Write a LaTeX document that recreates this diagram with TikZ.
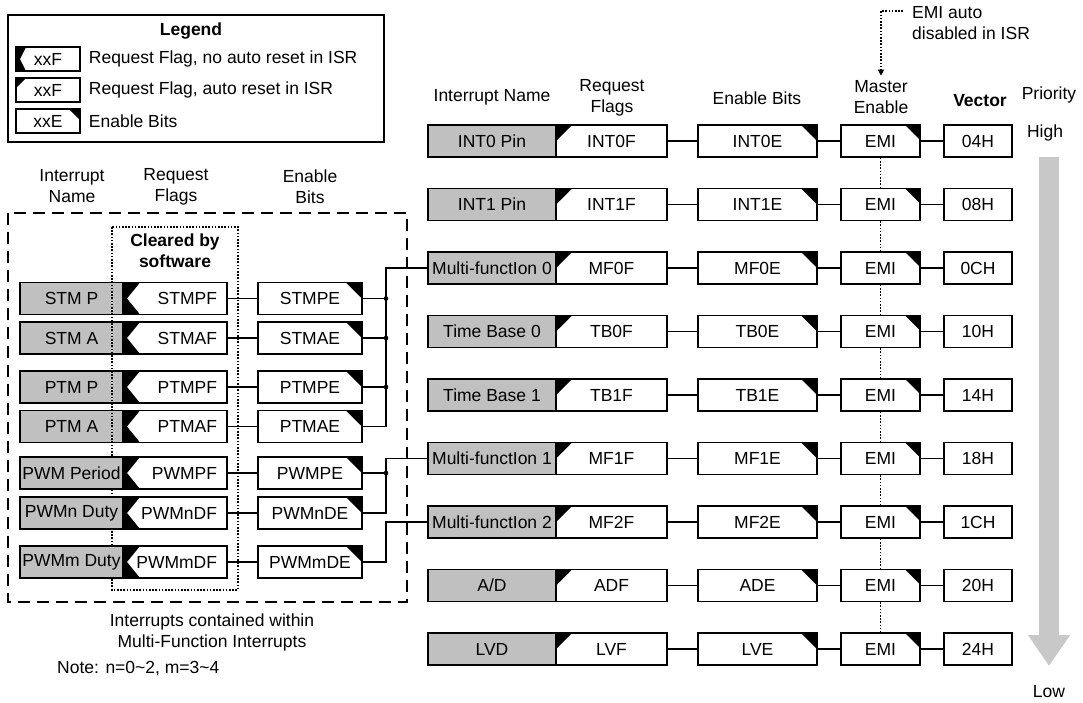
\documentclass[tikz,border=0pt]{standalone}
\usepackage{fontspec}
\setmainfont{Liberation Sans}
\usepackage{xcolor}
\usetikzlibrary{arrows.meta,positioning}
\definecolor{boxgray}{RGB}{192,192,192}
\definecolor{priogray}{RGB}{200,200,200}

\begin{document}
\begin{tikzpicture}[
  x=1pt, y=-1pt,
  every node/.style={font=\fontsize{17.5}{21}\selectfont, inner sep=0pt},
  boldlbl/.style={font=\fontsize{17.5}{21}\selectfont\bfseries},
  regbox/.style={draw, line width=1.4pt, minimum height=32pt},
  namebox/.style={regbox, fill=boxgray},
  reqflag/.style={regbox, fill=white,
    path picture={\fill[black] (path picture bounding box.north west) -- ++(#1,0) -- ++(-#1,#1) -- cycle;}},
  reqflag/.default=16,
  swflag/.style={regbox, fill=white,
    path picture={\fill[black] (path picture bounding box.north west)
      -- ([xshift=#1pt]path picture bounding box.north west)
      -- ([xshift=4pt]path picture bounding box.west)
      -- ([xshift=#1pt]path picture bounding box.south west)
      -- (path picture bounding box.south west) -- cycle;}},
  swflag/.default=17,
  enbit/.style={regbox, fill=white,
    path picture={\fill[black] (path picture bounding box.north east) -- ++(-#1,0) -- ++(#1,#1) -- cycle;}},
  enbit/.default=16,
  vecbox/.style={regbox, fill=white, minimum width=68pt},
  rname/.style={namebox, minimum width=128pt},
  rflag/.style={reqflag, minimum width=111pt},
  ren/.style={enbit, minimum width=119pt},
  remi/.style={enbit=15, minimum width=79pt},
  lname/.style={namebox, minimum width=103pt},
  lflag/.style={swflag, minimum width=104pt, text width=84pt, inner xsep=10pt, align=right},
  len/.style={enbit, minimum width=104pt},
  wire/.style={line width=1.2pt},
  emidot/.style={line width=1.1pt, dash pattern=on 1.6pt off 1.6pt},
  mfframe/.style={line width=1.1pt, dash pattern=on 12pt off 7pt},
  swframe/.style={line width=1.2pt, dash pattern=on 1.6pt off 1.6pt},
  prio/.style={draw=priogray, line width=20pt, -{Triangle[length=31pt,width=40pt]}}
]
\useasboundingbox (0,0) rectangle (1083,702);

% legend
\draw[line width=1.4pt] (8,15) rectangle (384,142);
\node[boldlbl] (legtitle) at (191,31) {Legend};
\node[swflag=10, minimum width=64pt, minimum height=24pt] (legsw) at (48,59) {xxF};
\node[right=8pt of legsw] (legswtxt) {Request Flag, no auto reset in ISR};
\node[reqflag=10, minimum width=64pt, minimum height=24pt] (legrf) at (48,90) {xxF};
\node[right=8pt of legrf] (legrftxt) {Request Flag, auto reset in ISR};
\node[enbit=11, minimum width=64pt, minimum height=24pt] (legen) at (48,121) {xxE};
\node[right=8pt of legen] (legentxt) {Enable Bits};

% left headings
\node[align=center] (lhname) at (72,186.5) {Interrupt\\Name};
\node[align=center] (lhflag) at (176,186.5) {Request\\Flags};
\node[align=center] (lhen) at (310,186.5) {Enable\\Bits};

% multi-function sources
\draw[mfframe] (8,213) rectangle (407,602);
\node[boldlbl, align=center] (clr) at (175,251) {Cleared by\\software};

\node[lname] (stmp) at (71.5,298.5) {STM P};
\node[lflag] (stmpf) at (175,298.5) {STMPF};
\node[len]   (stmpe) at (310,298.5) {STMPE};
\node[lname] (stma) at (71.5,338) {STM A};
\node[lflag] (stmaf) at (175,338) {STMAF};
\node[len]   (stmae) at (310,338) {STMAE};
\node[lname] (ptmp) at (71.5,387) {PTM P};
\node[lflag] (ptmpf) at (175,387) {PTMPF};
\node[len]   (ptmpe) at (310,387) {PTMPE};
\node[lname] (ptma) at (71.5,426.5) {PTM A};
\node[lflag] (ptmaf) at (175,426.5) {PTMAF};
\node[len]   (ptmae) at (310,426.5) {PTMAE};

\draw[swframe] (112,227) rectangle (238,590);

\node[lname] (pwmp) at (71.5,473) {PWM Period};
\node[lflag] (pwmpf) at (175,473) {PWMPF};
\node[len]   (pwmpe) at (310,473) {PWMPE};
\node[lname] (pwmn) at (71.5,513) {PWMn Duty};
\node[lflag] (pwmnf) at (175,513) {PWMnDF};
\node[len]   (pwmne) at (310,513) {PWMnDE};
\node[lname] (pwmm) at (71.5,562) {PWMm Duty};
\node[lflag] (pwmmf) at (175,562) {PWMmDF};
\node[len]   (pwmme) at (310,562) {PWMmDE};

\draw[wire] (stmpf) -- (stmpe) (stmaf) -- (stmae) (ptmpf) -- (ptmpe) (ptmaf) -- (ptmae);
\draw[wire] (pwmpf) -- (pwmpe) (pwmnf) -- (pwmne) (pwmmf) -- (pwmme);

\node[align=center] (mfnote) at (212,632) {Interrupts contained within\\Multi-Function Interrupts};
\node[anchor=west] (nmnote) at (57,668) {Note: n=0\textasciitilde 2, m=3\textasciitilde 4};

% right headings
\node (rhname) at (492,97) {Interrupt Name};
\node[align=center] (rhflag) at (612,97.5) {Request\\Flags};
\node (rhen) at (757,98) {Enable Bits};
\node[align=center] (mhead) at (881,97.5) {Master\\Enable};
\node[boldlbl] (vhead) at (980,101) {Vector};
\node (phead) at (1049,95) {Priority};
\node[align=left, anchor=west] (emitxt) at (912,23) {EMI auto\\disabled in ISR};
\coordinate (emibend) at (881,11);
\draw[emidot, -{Triangle[length=6pt,width=6pt]}, shorten >=5pt]
  ([xshift=-9pt]emitxt.west |- emibend) -- (emibend) -- (mhead.north);

% interrupt sources
\node[rname] (int0) at (492,141) {INT0 Pin};
\node[rflag] (int0f) at (611.5,141) {INT0F};
\node[ren]   (int0e) at (757.5,141) {INT0E};
\node[remi]  (int0m) at (880.5,141) {EMI};
\node[vecbox] (int0v) at (978,141) {04H};

\node[rname] (int1) at (492,204.5) {INT1 Pin};
\node[rflag] (int1f) at (611.5,204.5) {INT1F};
\node[ren]   (int1e) at (757.5,204.5) {INT1E};
\node[remi]  (int1m) at (880.5,204.5) {EMI};
\node[vecbox] (int1v) at (978,204.5) {08H};

\node[rname] (mf0) at (492,268) {Multi-functIon 0};
\node[rflag] (mf0f) at (611.5,268) {MF0F};
\node[ren]   (mf0e) at (757.5,268) {MF0E};
\node[remi]  (mf0m) at (880.5,268) {EMI};
\node[vecbox] (mf0v) at (978,268) {0CH};

\node[rname] (tb0) at (492,331.5) {Time Base 0};
\node[rflag] (tb0f) at (611.5,331.5) {TB0F};
\node[ren]   (tb0e) at (757.5,331.5) {TB0E};
\node[remi]  (tb0m) at (880.5,331.5) {EMI};
\node[vecbox] (tb0v) at (978,331.5) {10H};

\node[rname] (tb1) at (492,395) {Time Base 1};
\node[rflag] (tb1f) at (611.5,395) {TB1F};
\node[ren]   (tb1e) at (757.5,395) {TB1E};
\node[remi]  (tb1m) at (880.5,395) {EMI};
\node[vecbox] (tb1v) at (978,395) {14H};

\node[rname] (mf1) at (492,458.5) {Multi-functIon 1};
\node[rflag] (mf1f) at (611.5,458.5) {MF1F};
\node[ren]   (mf1e) at (757.5,458.5) {MF1E};
\node[remi]  (mf1m) at (880.5,458.5) {EMI};
\node[vecbox] (mf1v) at (978,458.5) {18H};

\node[rname] (mf2) at (492,522) {Multi-functIon 2};
\node[rflag] (mf2f) at (611.5,522) {MF2F};
\node[ren]   (mf2e) at (757.5,522) {MF2E};
\node[remi]  (mf2m) at (880.5,522) {EMI};
\node[vecbox] (mf2v) at (978,522) {1CH};

\node[rname] (ad) at (492,585.5) {A/D};
\node[rflag] (adf) at (611.5,585.5) {ADF};
\node[ren]   (ade) at (757.5,585.5) {ADE};
\node[remi]  (adm) at (880.5,585.5) {EMI};
\node[vecbox] (adv) at (978,585.5) {20H};

\node[rname] (lvd) at (492,649) {LVD};
\node[rflag] (lvdf) at (611.5,649) {LVF};
\node[ren]   (lvde) at (757.5,649) {LVE};
\node[remi]  (lvdm) at (880.5,649) {EMI};
\node[vecbox] (lvdv) at (978,649) {24H};

\draw[wire] (int0f) -- (int0e) (int0e) -- (int0m) (int0m) -- (int0v);
\draw[wire] (int1f) -- (int1e) (int1e) -- (int1m) (int1m) -- (int1v);
\draw[wire] (mf0f) -- (mf0e) (mf0e) -- (mf0m) (mf0m) -- (mf0v);
\draw[wire] (tb0f) -- (tb0e) (tb0e) -- (tb0m) (tb0m) -- (tb0v);
\draw[wire] (tb1f) -- (tb1e) (tb1e) -- (tb1m) (tb1m) -- (tb1v);
\draw[wire] (mf1f) -- (mf1e) (mf1e) -- (mf1m) (mf1m) -- (mf1v);
\draw[wire] (mf2f) -- (mf2e) (mf2e) -- (mf2m) (mf2m) -- (mf2v);
\draw[wire] (adf) -- (ade) (ade) -- (adm) (adm) -- (adv);
\draw[wire] (lvdf) -- (lvde) (lvde) -- (lvdm) (lvdm) -- (lvdv);

% master enable chain
\draw[emidot] (int0m) -- (int1m) -- (mf0m) -- (tb0m) -- (tb1m) -- (mf1m) -- (mf2m) -- (adm) -- (lvdm);

% multi-function buses
\coordinate (busa) at (386,268);
\draw[wire] (mf0) -- (busa) |- (ptmae);
\draw[wire] (stmpe) -- (busa |- stmpe) (stmae) -- (busa |- stmae) (ptmpe) -- (busa |- ptmpe);
\fill (busa |- stmpe) circle (2.3) (busa |- stmae) circle (2.3) (busa |- ptmpe) circle (2.3);

\coordinate (busb) at (386,458.5);
\draw[wire] (mf1) -- (busb) |- (pwmne);
\draw[wire] (pwmpe) -- (busb |- pwmpe);
\fill (busb |- pwmpe) circle (2.3);

\coordinate (busc) at (386,522);
\draw[wire] (mf2) -- (busc) |- (pwmme);

% priority
\node (high) at (1045,133) {High};
\node (low) at (1049,692) {Low};
\draw[prio, shorten <=24pt, shorten >=26pt] (high.center -| low.center) -- (low.center);
\end{tikzpicture}
\end{document}
